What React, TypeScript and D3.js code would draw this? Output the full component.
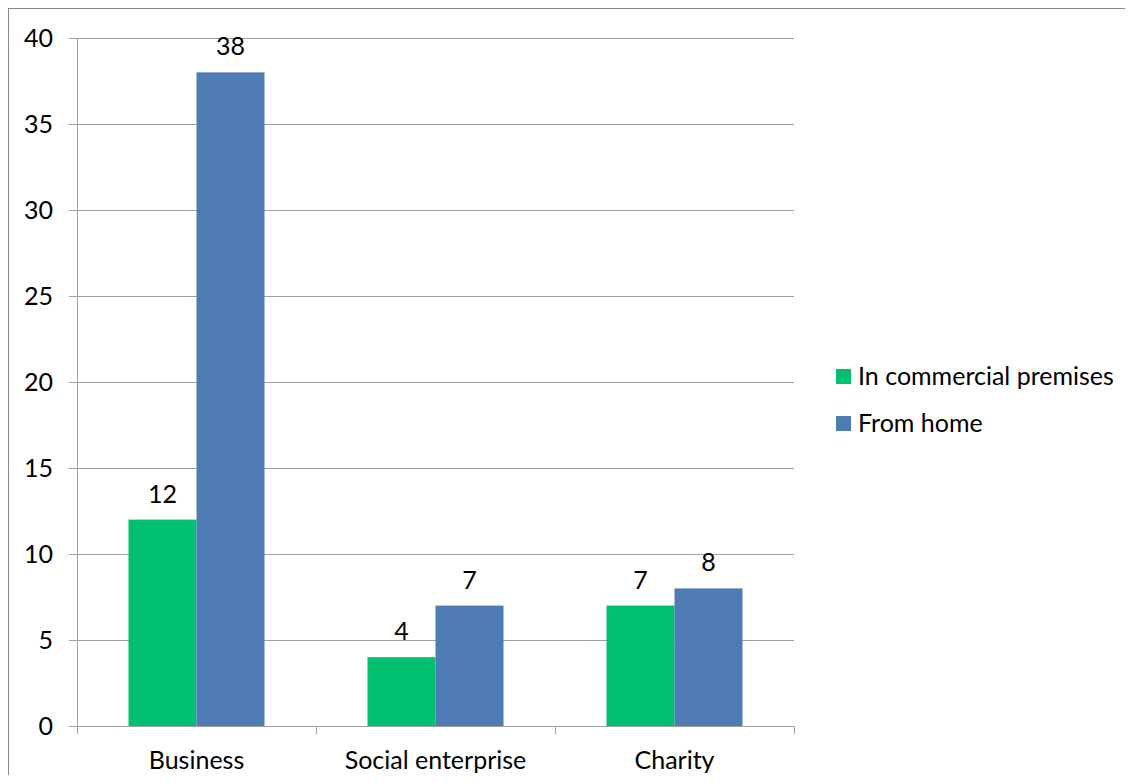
import React from "react";
import * as d3 from "d3";

const categories = ["Business", "Social enterprise", "Charity"];
const seriesNames = ["In commercial premises", "From home"];
const commercialValues = [12, 4, 7];
const homeValues = [38, 7, 8];
const yTicks = [0, 5, 10, 15, 20, 25, 30, 35, 40];
const colors = ["#00BF6F", "#4F7BB5"];

const W = 1117;
const H = 767;
const FONT = "Lato, 'Open Sans', sans-serif";
const FS = 25;

export default function App() {
  // svg origin is at page (8,8)
  const left = 69, right = 786, top = 30, bottom = 718;
  const y = d3.scaleLinear().domain([0, 40]).range([bottom, top]);
  const x = d3.scaleBand().domain(categories).range([left, right]).padding(0);
  const bw = x.bandwidth();
  const inner = d3.scaleBand().domain(seriesNames).range([bw * 0.2155, bw * 0.7845]).padding(0);
  const series = [commercialValues, homeValues];
  const gridColor = "#A0A0A0";

  return (
    <svg width={W} height={H} style={{ display: "block" }} fontFamily={FONT}>
      <rect x={0.5} y={0.5} width={W + 100} height={H + 100} fill="#fff" stroke="#888" strokeWidth={1} />
      {yTicks.map((t) => (
        <g key={t}>
          <line x1={left - 8} x2={right} y1={Math.round(y(t)) + 0.5} y2={Math.round(y(t)) + 0.5} stroke={gridColor} strokeWidth={1} />
          <text x={left - 24} y={y(t) + 9} textAnchor="end" fontSize={FS} fill="#000">{t}</text>
        </g>
      ))}
      {categories.map((c, i) => (
        <g key={c}>
          {series.map((vals, s) => {
            const bx = (x(c) as number) + (inner(seriesNames[s]) as number);
            const bwid = inner.bandwidth();
            return (
              <g key={s}>
                <rect x={bx} y={y(vals[i])} width={bwid} height={y(0) - y(vals[i])} fill={colors[s]} />
                <text x={bx + bwid / 2} y={y(vals[i]) - 17} textAnchor="middle" fontSize={FS} fill="#000">{vals[i]}</text>
              </g>
            );
          })}
          <text x={(x(c) as number) + bw / 2} y={bottom + 43} textAnchor="middle" fontSize={FS} fill="#000">{c}</text>
        </g>
      ))}
      <line x1={left + 0.5} x2={left + 0.5} y1={top} y2={bottom + 8} stroke={gridColor} strokeWidth={1} />
      {[0, 1, 2, 3].map((k) => (
        <line key={k} x1={Math.round(left + k * bw) + 0.5} x2={Math.round(left + k * bw) + 0.5} y1={bottom} y2={bottom + 8} stroke={gridColor} strokeWidth={1} />
      ))}
      {seriesNames.map((n, s) => (
        <g key={n} transform={`translate(828, ${361 + s * 47})`}>
          <rect x={0} y={0} width={15} height={15} fill={colors[s]} />
          <text x={22} y={15.5} fontSize={FS} fill="#000">{n}</text>
        </g>
      ))}
    </svg>
  );
}
